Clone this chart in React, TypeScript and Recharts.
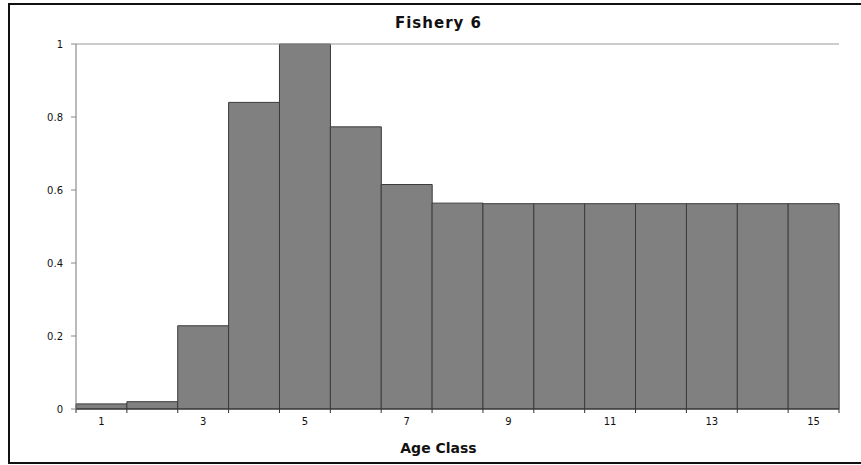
import { Bar, BarChart, Label, ReferenceLine, XAxis, YAxis } from "recharts";

const ageClasses = [1, 2, 3, 4, 5, 6, 7, 8, 9, 10, 11, 12, 13, 14, 15];
const selectivity = [
  0.014, 0.02, 0.228, 0.84, 1.0, 0.773, 0.615, 0.564, 0.5625, 0.5625, 0.5625,
  0.5625, 0.5625, 0.5625, 0.5625,
];
const yTicks = [0, 0.2, 0.4, 0.6, 0.8, 1];
const labelledAges = [1, 3, 5, 7, 9, 11, 13, 15];

const CHART_W = 861;
const CHART_H = 465;
const MARGIN = { top: 44, right: 22, bottom: 6, left: 0 };
const Y_AXIS_W = 76;
const PLOT_W = CHART_W - MARGIN.left - MARGIN.right - Y_AXIS_W;
const BAND = PLOT_W / ageClasses.length;

const FONT = "'DejaVu Sans', Verdana, sans-serif";

const chartData = ageClasses.map((age, i) => ({
  age,
  value: selectivity[i],
}));

function AgeTick(props: any) {
  const { x, y, payload, index } = props;
  const left = x - BAND / 2;
  const isLast = index === ageClasses.length - 1;

  return (
    <g>
      <line x1={left} y1={y} x2={left} y2={y + 4} stroke="#333" />
      {isLast && (
        <line x1={left + BAND} y1={y} x2={left + BAND} y2={y + 4} stroke="#333" />
      )}
      {labelledAges.includes(payload.value) && (
        <text
          x={x}
          y={y + 16}
          textAnchor="middle"
          fontSize={10}
          fontFamily={FONT}
          fill="#111"
        >
          {payload.value}
        </text>
      )}
    </g>
  );
}

export default function App() {
  return (
    <div
      style={{
        position: "absolute",
        left: 0,
        top: 0,
        width: CHART_W,
        height: CHART_H,
        overflow: "hidden",
        background: "#fff",
      }}
    >
      <div
        style={{
          position: "absolute",
          left: 8,
          top: 3,
          width: 900,
          height: 457,
          border: "2px solid #111",
          borderRight: "none",
        }}
      />
      <div
        style={{
          position: "absolute",
          left: 0,
          top: 15,
          width: 877,
          textAlign: "center",
          fontFamily: FONT,
          fontWeight: "bold",
          fontSize: 15,
          lineHeight: "16px",
          letterSpacing: 1,
          color: "#111",
        }}
      >
        Fishery 6
      </div>

      <BarChart
        width={CHART_W}
        height={CHART_H}
        data={chartData}
        margin={MARGIN}
        barCategoryGap={0}
        barGap={0}
        style={{ position: "absolute", left: 0, top: 0 }}
      >
        <XAxis
          dataKey="age"
          interval={0}
          height={50}
          tickSize={0}
          tickMargin={0}
          axisLine={{ stroke: "#333" }}
          tick={AgeTick}
        >
          <Label
            value="Age Class"
            position="insideBottom"
            offset={6}
            dx={-19}
            style={{
              fontFamily: FONT,
              fontWeight: "bold",
              fontSize: 14,
              fill: "#111",
            }}
          />
        </XAxis>

        <YAxis
          domain={[0, 1]}
          ticks={yTicks}
          width={Y_AXIS_W}
          tickSize={5}
          tickMargin={8}
          axisLine={{ stroke: "#777" }}
          tickLine={{ stroke: "#888" }}
          tickFormatter={(v: number) => String(v)}
          tick={{ fontSize: 10, fontFamily: FONT, fill: "#111" }}
        />
        <YAxis
          yAxisId="right"
          orientation="right"
          domain={[0, 1]}
          width={0}
          tick={false}
          tickLine={false}
          axisLine={{ stroke: "#999" }}
        />

        <ReferenceLine y={1} stroke="#999" strokeWidth={1} />

        <Bar
          dataKey="value"
          fill="#808080"
          stroke="#3a3a3a"
          strokeWidth={1}
          isAnimationActive={false}
        />
      </BarChart>
    </div>
  );
}
